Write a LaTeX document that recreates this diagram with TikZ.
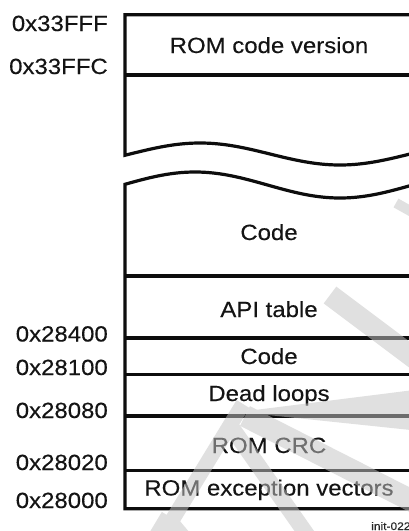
\documentclass[tikz,border=0pt]{standalone}
\usepackage{fontspec}
\usepackage{graphicx}
\setmainfont{Liberation Sans}[FakeBold=0.25]
\newcommand{\wtxt}[1]{\scalebox{1.09}[1]{#1}}
\tikzset{
  bound/.style={line width=3.2pt, draw=black!95, line join=miter},
  lbl/.style={inner sep=0pt, anchor=base, text=black!92, font=\fontsize{22}{26}\selectfont},
  addr/.style={inner sep=0pt, anchor=base east, text=black!92, font=\fontsize{22}{26}\selectfont},
  tag/.style={inner sep=0pt, anchor=base west, text=black!85, font=\fontsize{11}{13}\selectfont},
  wm/.style={draw=black!23, line cap=butt},
  wmfill/.style={fill=black!23}
}
\begin{document}
\begin{tikzpicture}[x=1pt,y=-1pt]
\clip (0,0) rectangle (409,531);
\fill[white] (0,0) rectangle (409,531);
% outline upper part with wave
\draw[bound] (416,14.7) -- (125,14.7) -- (125,155.2)
  -- plot[domain=125:416, samples=90] (\x,{154-11*cos(((\x-200)/140)*180)});
\draw[bound] plot[domain=416:125, samples=90] (\x,{185-13*cos(((\x-195)/145)*180)})
  -- (125,508.7) -- (416,508.7);
% region boundaries
\coordinate (l1) at (125,75); \coordinate (r1) at (416,75);
\coordinate (l2) at (125,276); \coordinate (r2) at (416,276);
\coordinate (l3) at (125,338); \coordinate (r3) at (416,338);
\coordinate (l4) at (125,374.5); \coordinate (r4) at (416,374.5);
\coordinate (l5) at (125,416); \coordinate (r5) at (416,416);
\coordinate (l6) at (125,470.3); \coordinate (r6) at (416,470.3);
\foreach \i in {1,...,6} { \draw[bound] (l\i) -- (r\i); }
% region labels
\node[lbl] (romver) at (269,53) {\wtxt{ROM code version}};
\node[lbl] (codehi) at (269,240) {\wtxt{Code}};
\node[lbl] (api) at (269,317) {\wtxt{API table}};
\node[lbl] (codelo) at (269,364) {\wtxt{Code}};
\node[lbl] (dead) at (269,401) {\wtxt{Dead loops}};
\node[lbl] (crc) at (269,453) {\wtxt{ROM CRC}};
\node[lbl] (vec) at (269,495.5) {\wtxt{ROM exception vectors}};
% addresses
\node[addr] (a1) at (108,31) {\wtxt{0x33FFF}};
\node[addr] (a2) at (108,74) {\wtxt{0x33FFC}};
\node[addr] (a3) at (108,341.5) {\wtxt{0x28400}};
\node[addr] (a4) at (108,375) {\wtxt{0x28100}};
\node[addr] (a5) at (108,418) {\wtxt{0x28080}};
\node[addr] (a6) at (108,470) {\wtxt{0x28020}};
\node[addr] (a7) at (108,508) {\wtxt{0x28000}};
% figure tag
\node[tag] (fig) at (371,530) {\wtxt{init-022}};
% faint watermark strokes
\begin{scope}[transparency group, opacity=0.52]
\draw[wm, line width=21pt] (330,295) -- (430,370);
\fill[wmfill] (239,412) -- (430,388) -- (430,432) -- cycle;
\draw[wm, line width=22pt] (245,416) -- (430,510);
\draw[wm, line width=16pt] (232,428) -- (312,542);
\draw[wm, line width=15pt] (243,404) -- (160,540);
\draw[wm, line width=12pt] (167,515) -- (152,540);
\draw[wm, line width=12pt] (167,515) -- (188,540);
\draw[wm, line width=10pt] (396,203) -- (430,222);
\end{scope}
\end{tikzpicture}
\end{document}
